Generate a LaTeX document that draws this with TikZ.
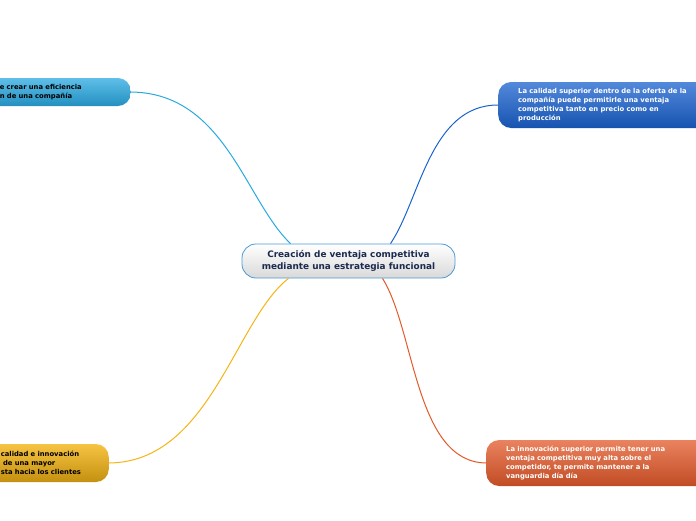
\documentclass[tikz,border=0pt]{standalone}
\usepackage{fontspec}
\setmainfont{DejaVu Sans}
\usetikzlibrary{positioning, calc}
\definecolor{skyblue}{HTML}{29A9E1}
\definecolor{royalblue}{HTML}{1A62CF}
\definecolor{goldyellow}{HTML}{F5B414}
\definecolor{redorange}{HTML}{E3592A}
\definecolor{navytext}{HTML}{1B2A4E}
\definecolor{rimblue}{HTML}{4A9AD6}

\begin{document}
\begin{tikzpicture}[x=1pt, y=-1pt,
    topic/.style={draw=rimblue, line width=0.8pt, rounded corners=14pt,
        top color=white, bottom color=black!15, minimum width=213pt, minimum height=34pt,
        inner sep=0pt, align=center, text=navytext, font=\bfseries\fontsize{8.9}{11.5}\selectfont},
    leaf/.style={rounded corners=13pt, inner ysep=0pt, align=left,
        font=\bfseries\fontsize{6.8}{9}\selectfont},
    link/.style={line width=1pt}]
    \useasboundingbox (0,0) rectangle (696,520);
    \clip (0,0) rectangle (696,520);
    \node[topic] (main) at (348.5,261) {Creación de ventaja competitiva\\mediante una estrategia funcional};
    \node[leaf, anchor=east, top color=skyblue!75, bottom color=skyblue!85!black, text=black,
        minimum height=28pt, text width=101pt, inner xsep=30pt] (eff) at (131,92)
        {e crear una eficiencia\\n de una compañía};
    \node[leaf, anchor=west, top color=royalblue!75, bottom color=royalblue!85!black, text=white,
        minimum height=46pt, text width=200pt, inner xsep=20pt] (qual) at (498,105)
        {La calidad superior dentro de la oferta de la\\compañía puede permitirle una ventaja\\competitiva tanto en precio como en\\producción};
    \node[leaf, anchor=east, top color=goldyellow!80, bottom color=goldyellow!80!black, text=black,
        minimum height=38pt, text width=88pt, inner xsep=20pt] (resp) at (109,463)
        {calidad e innovación\\\ de una mayor\\sta hacia los clientes};
    \node[leaf, anchor=west, top color=redorange!75, bottom color=redorange!85!black, text=white,
        minimum height=46pt, text width=200pt, inner xsep=20pt] (innov) at (486,463)
        {La innovación superior permite tener una\\ventaja competitiva muy alta sobre el\\competidor, te permite mantener a la\\vanguardia día día};
    % connectors
    \draw[link, skyblue] (eff.east) .. controls (225,93) and (245,200) .. ($(main.north)+(-58,0)$);
    \draw[link, royalblue] ($(main.north)+(42,0)$) .. controls (420,200) and (430,105) .. (qual.west);
    \draw[link, goldyellow] ($(main.south)+(-60,0)$) .. controls (235,320) and (210,462) .. (resp.east);
    \draw[link, redorange] ($(main.south)+(34,0)$) .. controls (415,330) and (415,462) .. (innov.west);
\end{tikzpicture}
\end{document}
